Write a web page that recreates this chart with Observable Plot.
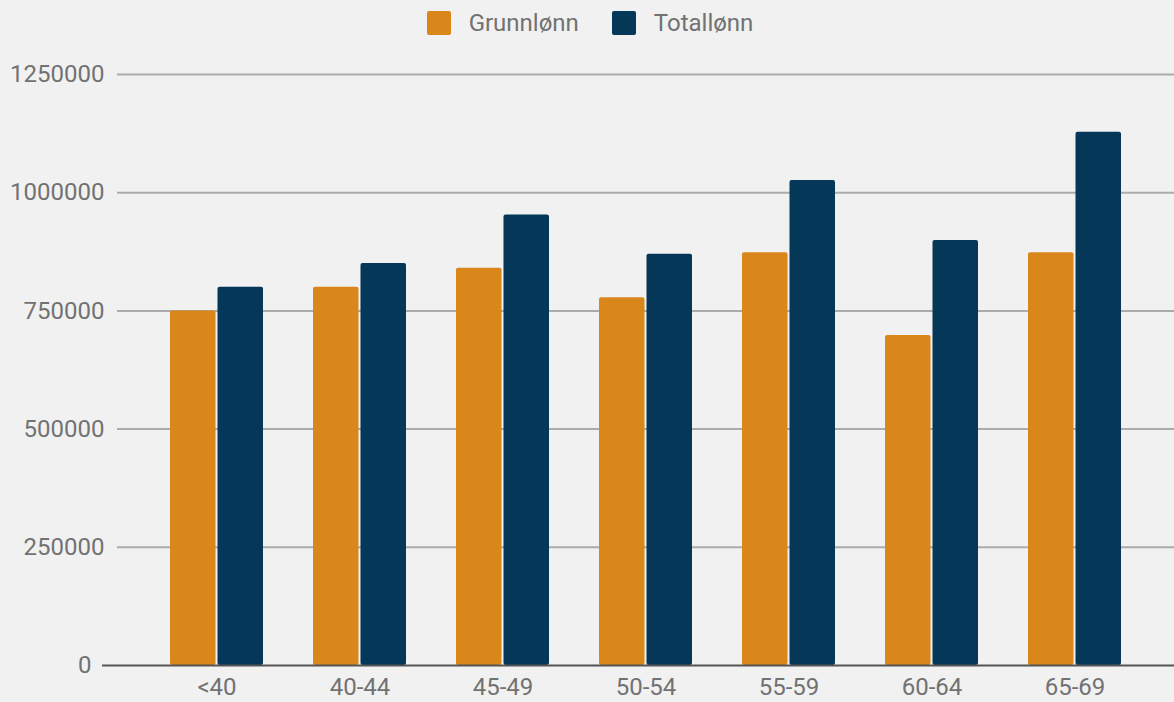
<!DOCTYPE html>
<html><head><meta charset="utf-8">
<script src="https://cdn.jsdelivr.net/npm/d3@7"></script>
<script src="https://cdn.jsdelivr.net/npm/@observablehq/plot@0.6"></script>
<style>
body{margin:0;background:#f1f1f1;font-family:Roboto,sans-serif;}
#legend{height:45px;display:flex;justify-content:center;align-items:center;gap:33px;font-size:24px;color:#727272;padding-left:6px;}
.item{display:flex;align-items:center;gap:18px}
.sw{width:24px;height:24px;border-radius:2px}
svg{display:block}
</style></head><body>
<div id="legend"></div><div id="chart"></div>
<script>
const categories = ["<40","40-44","45-49","50-54","55-59","60-64","65-69"];
const seriesNames = ["Grunnlønn","Totallønn"];
const grunnlonn = [750000, 800000, 840000, 778000, 873000, 698000, 873000];
const totallonn = [800000, 850000, 953000, 870000, 1026000, 899000, 1128000];
const colors = ["#D9861B","#053758"];
const yTicks = [250000, 500000, 750000, 1000000, 1250000];

const rows = [];
categories.forEach((c,i)=>{
  rows.push({category:c, series:seriesNames[0], value:grunnlonn[i]});
  rows.push({category:c, series:seriesNames[1], value:totallonn[i]});
});

const legend = document.getElementById("legend");
seriesNames.forEach((s,i)=>{
  const it = document.createElement("div"); it.className="item";
  const sw = document.createElement("div"); sw.className="sw"; sw.style.background=colors[i];
  const t = document.createElement("span"); t.textContent=s;
  it.append(sw,t); legend.append(it);
});

const chart = Plot.plot({
  width:1174, height:657,
  marginTop:29, marginBottom:37, marginLeft:117, marginRight:0,
  style:{background:"#f1f1f1", fontFamily:"Roboto, sans-serif", fontSize:"24px", color:"#727272"},
  x:{domain:categories, paddingInner:0.352, paddingOuter:0.359, label:null},
  y:{domain:[0,1250000], label:null},
  marks:[
    Plot.ruleY(yTicks,{stroke:"#ababab", strokeWidth:2}),
    Plot.axisY(yTicks,{tickSize:0, tickPadding:13, tickFormat:d=>String(d), fill:"#727272", label:null}),
    Plot.axisY([0],{tickSize:0, tickPadding:26, tickFormat:d=>String(d), fill:"#727272", label:null}),
    Plot.barY(rows.filter(d=>d.series===seriesNames[0]),{x:"category", y:"value", fill:colors[0], insetRight:47.5, rx:2}),
    Plot.barY(rows.filter(d=>d.series===seriesNames[1]),{x:"category", y:"value", fill:colors[1], insetLeft:47.5, rx:2}),
    Plot.ruleY([0],{stroke:"#555", strokeWidth:2, insetLeft:-15}),
    Plot.axisX({tickSize:0, tickPadding:12, fill:"#727272", label:null})
  ]
});
document.getElementById("chart").append(chart);
</script></body></html>
